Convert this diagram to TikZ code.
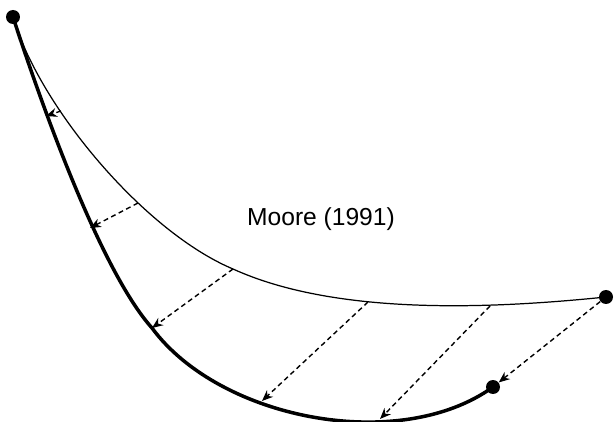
\documentclass[tikz,border=0pt]{standalone}
\usepackage{fontspec}
\setmainfont{Liberation Sans}
\usetikzlibrary{arrows.meta}

\begin{document}
\begin{tikzpicture}[
        x=0.02cm, y=-0.02cm,
        dot/.style={circle, fill, inner sep=0pt, minimum size=0.28cm},
        thinline/.style={line width=0.7pt},
        thickline/.style={line width=2pt},
        shiftarrow/.style={dash pattern=on 2.8pt off 2pt, line width=0.8pt, -{Stealth[length=2.2mm, width=1.8mm]}},
        label/.style={font=\fontsize{14}{16}\selectfont}
    ]
        \useasboundingbox (0,0) rectangle (616,422);

        \node[dot] (start) at (13,17) {};
        \node[dot] (target) at (606,297) {};
        \node[dot] (end) at (493,387) {};
        \node[label] (moore) at (321,219) {Moore (1991)};

        % thin curve and thick curve
        \draw[thinline] (start.center) .. controls (40,108) and (145,232) .. (233,269)
            .. controls (332,314) and (480,310) .. (target.center);
        \draw[thickline] (start.center) .. controls (40,100) and (100,270) .. (152,328)
            .. controls (220,420) and (400,454) .. (end.center);

        % points on the curves
        \coordinate (a1) at (61,111);
        \coordinate (b1) at (46,116);
        \coordinate (a2) at (138,203);
        \coordinate (b2) at (90,228);
        \coordinate (a3) at (233,269);
        \coordinate (b3) at (152,328);
        \coordinate (a4) at (368,302);
        \coordinate (b4) at (262,401);
        \coordinate (a5) at (490,306);
        \coordinate (b5) at (380,419);

        \draw[shiftarrow] (a1) -- (b1);
        \draw[shiftarrow] (a2) -- (b2);
        \draw[shiftarrow] (a3) -- (b3);
        \draw[shiftarrow] (a4) -- (b4);
        \draw[shiftarrow] (a5) -- (b5);
        \draw[shiftarrow] (target) -- (end);
    \end{tikzpicture}
\end{document}
